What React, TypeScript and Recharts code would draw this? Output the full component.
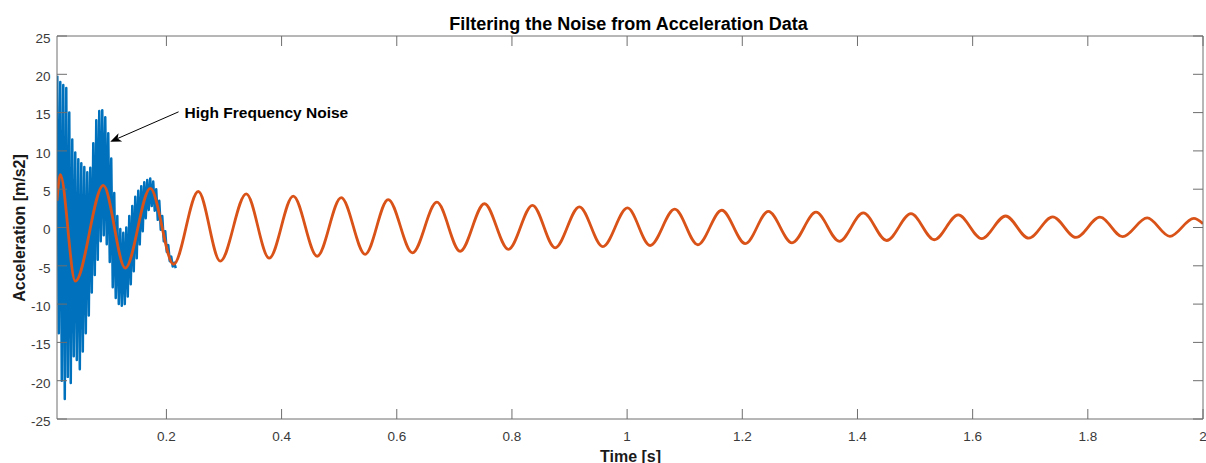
import React from 'react';
import { LineChart, Line, XAxis, YAxis, ReferenceLine } from 'recharts';

// ---------- data ----------
const titleText = 'Filtering the Noise from Acceleration Data';
const xLabelText = 'Time [s]';
const yLabelText = 'Acceleration [m/s2]';
const annotationText = 'High Frequency Noise';

const xTicks = [0.2, 0.4, 0.6, 0.8, 1, 1.2, 1.4, 1.6, 1.8, 2];
const yTicks = [-25, -20, -15, -10, -5, 0, 5, 10, 15, 20, 25];
const xDomain = [0.01, 2];
const yDomain = [-25, 25];

// raw (noisy) acceleration, time [s]
const blueTime = [
  0.0105, 0.0131, 0.0157, 0.0183, 0.0209, 0.0235, 0.0261, 0.0287, 0.0313, 0.0339,
  0.0365, 0.0391, 0.0417, 0.0444, 0.047, 0.0496, 0.0522, 0.0548, 0.0574, 0.06,
  0.0626, 0.0652, 0.0678, 0.0704, 0.073, 0.0756, 0.0782, 0.0808, 0.0834, 0.086,
  0.0886, 0.0912, 0.0938, 0.0964, 0.099, 0.1016, 0.1042, 0.1068, 0.1094, 0.112,
  0.1147, 0.1173, 0.1199, 0.1225, 0.1251, 0.1277, 0.1303, 0.1329, 0.1355, 0.1381,
  0.1407, 0.1433, 0.1459, 0.1485, 0.1511, 0.1537, 0.1563, 0.1589, 0.1615, 0.1641,
  0.1667, 0.1693, 0.1719, 0.1745, 0.1771, 0.1797, 0.1823, 0.185, 0.1876, 0.1902,
  0.1928, 0.1954, 0.198, 0.2006, 0.2032, 0.2058, 0.2084, 0.211, 0.2136, 0.2162,
];
// raw (noisy) acceleration, value [m/s2]
const blueValue = [
  19.8, -13.8, 19.0, -20.0, 18.6, -22.4, 18.2, -19.5, 15.0, -20.3,
  11.5, -16.8, 9.8, -17.3, 8.9, -18.5, 8.4, -16.2, 7.9, -13.8,
  7.2, -11.5, 7.8, -8.5, 11.0, -6.2, 14.0, -4.2, 15.2, -1.8,
  15.3, -1.0, 14.4, -2.2, 12.3, -4.5, 9.0, -7.8, 4.5, -9.2,
  1.5, -10.0, -0.2, -10.2, -0.7, -10.0, 0.0, -9.0, 1.5, -7.4,
  2.8, -5.7, 4.0, -4.0, 4.8, -2.2, 5.4, -0.5, 5.9, 1.2,
  6.2, 2.3, 6.4, 2.8, 6.0, 2.2, 5.0, 1.0, 3.5, -0.3,
  1.5, -1.8, -0.5, -3.2, -2.3, -4.4, -3.8, -5.1, -4.6, -5.3,
];

// filtered acceleration (turning points), time [s]
const orangeTime = [
  0.01, 0.0157, 0.0418, 0.0904, 0.1286, 0.172, 0.2124, 0.2553, 0.2935, 0.3386,
  0.3785, 0.4202, 0.4618, 0.5035, 0.5451, 0.5851, 0.6273, 0.6696, 0.71, 0.7522,
  0.7939, 0.8356, 0.875, 0.9171, 0.9578, 1.0006, 1.0399, 1.0827, 1.1227, 1.1643,
  1.2053, 1.2452, 1.2864, 1.328, 1.3685, 1.4101, 1.4507, 1.4929, 1.5334, 1.575,
  1.6157, 1.6573, 1.6973, 1.7389, 1.7794, 1.821, 1.8604, 1.9031, 1.9425, 1.9842,
  2.0,
];
// filtered acceleration, value [m/s2]
const orangeValue = [
  3.5, 6.9, -7.0, 5.5, -5.3, 5.1, -4.8, 4.7, -4.4, 4.4,
  -4.0, 4.1, -3.75, 3.9, -3.5, 3.65, -3.3, 3.3, -3.1, 3.1,
  -2.85, 2.9, -2.65, 2.7, -2.5, 2.55, -2.35, 2.4, -2.25, 2.25,
  -2.1, 2.1, -2.0, 2.0, -1.8, 1.9, -1.7, 1.8, -1.6, 1.65,
  -1.45, 1.5, -1.4, 1.4, -1.3, 1.35, -1.2, 1.25, -1.15, 1.2,
  0.5,
];

// annotation arrow: tail (near text) -> tip (on noisy signal)
const arrowTail = { x: 0.2211, y: 15.1 };
const arrowTip = { x: 0.1025, y: 11.2 };

const blueData = blueTime.map((t, i) => ({ t, v: blueValue[i] }));
const orangeData = orangeTime.map((t, i) => ({ t, v: orangeValue[i] }));

// ---------- style ----------
const FONT = '"Liberation Sans", Arial, Helvetica, sans-serif';
const AXIS = '#6e6e6e';
const TICK_TEXT = '#3a3a3a';
const TICK_LEN = 10;
const W = 1206;
const H = 463;

const BOTTOM_M = 22;
const LEFT_M = 6.5;
const TOP_M = 4;
const RIGHT_M = 4;

const fmt = (v: number) => String(v);

const BottomTick = (p: any) => {
  const { x, y, payload } = p;
  const axisY = y - BOTTOM_M;
  return (
    <g>
      <line x1={x} x2={x} y1={axisY} y2={axisY - TICK_LEN} stroke={AXIS} strokeWidth={1} />
      <text x={x} y={y} textAnchor="middle" fontFamily={FONT} fontSize={13.5} fill={TICK_TEXT}>
        {fmt(payload.value)}
      </text>
    </g>
  );
};

const TopTick = (p: any) => {
  const { x, y } = p;
  const axisY = y + TOP_M;
  return <line x1={x} x2={x} y1={axisY} y2={axisY + TICK_LEN} stroke={AXIS} strokeWidth={1} />;
};

const LeftTick = (p: any) => {
  const { x, y, payload } = p;
  const axisX = x + LEFT_M;
  return (
    <g>
      <line x1={axisX} x2={axisX + TICK_LEN} y1={y} y2={y} stroke={AXIS} strokeWidth={1} />
      <text x={x} y={y + 6.8} textAnchor="end" fontFamily={FONT} fontSize={13.5} fill={TICK_TEXT}>
        {fmt(payload.value)}
      </text>
    </g>
  );
};

const RightTick = (p: any) => {
  const { x, y } = p;
  const axisX = x - RIGHT_M;
  return <line x1={axisX} x2={axisX - TICK_LEN} y1={y} y2={y} stroke={AXIS} strokeWidth={1} />;
};

const ArrowShape = (props: any) => {
  const { x1, y1, x2, y2 } = props;
  if ([x1, y1, x2, y2].some((v) => typeof v !== 'number' || Number.isNaN(v))) return null;
  const dx = x2 - x1;
  const dy = y2 - y1;
  const len = Math.hypot(dx, dy) || 1;
  const ux = dx / len;
  const uy = dy / len;
  const nx = -uy;
  const ny = ux;
  const L = 11;
  const HW = 4.5;
  const back = 3;
  const bx = x2 - ux * L;
  const by = y2 - uy * L;
  const mx = x2 - ux * (L - back);
  const my = y2 - uy * (L - back);
  const pts = `${x2},${y2} ${bx + nx * HW},${by + ny * HW} ${mx},${my} ${bx - nx * HW},${by - ny * HW}`;
  return (
    <g>
      <line x1={x1} y1={y1} x2={mx} y2={my} stroke="#000" strokeWidth={1} />
      <polygon points={pts} fill="#000" />
      <text x={x1 + 6} y={y1 + 6.6} fontFamily={FONT} fontWeight="bold" fontSize={15.5} fill="#000">
        {annotationText}
      </text>
    </g>
  );
};

export default function App() {
  return (
    <div style={{ position: 'absolute', left: 0, top: 0, width: W, height: H, background: '#fff' }}>
      <LineChart width={W} height={H} margin={{ top: 35, right: 2, bottom: 0, left: 0 }}>
        <XAxis
          xAxisId={0}
          dataKey="t"
          type="number"
          domain={xDomain}
          ticks={xTicks}
          allowDataOverflow
          height={44}
          orientation="bottom"
          stroke={AXIS}
          tickLine={false}
          tickSize={0}
          tickMargin={BOTTOM_M}
          tick={BottomTick}
          interval={0}
        />
        <XAxis
          xAxisId="top"
          dataKey="t"
          type="number"
          domain={xDomain}
          ticks={xTicks}
          allowDataOverflow
          height={1}
          orientation="top"
          stroke={AXIS}
          tickLine={false}
          tickSize={0}
          tickMargin={TOP_M}
          tick={TopTick}
          interval={0}
        />
        <YAxis
          yAxisId={0}
          type="number"
          domain={yDomain}
          ticks={yTicks}
          allowDataOverflow
          width={57}
          orientation="left"
          stroke={AXIS}
          tickLine={false}
          tickSize={0}
          tickMargin={LEFT_M}
          tick={LeftTick}
          interval={0}
        />
        <YAxis
          yAxisId="right"
          type="number"
          domain={yDomain}
          ticks={yTicks}
          allowDataOverflow
          width={1}
          orientation="right"
          stroke={AXIS}
          tickLine={false}
          tickSize={0}
          tickMargin={RIGHT_M}
          tick={RightTick}
          interval={0}
        />
        <Line
          data={blueData}
          dataKey="v"
          type="linear"
          stroke="#0072BD"
          strokeWidth={2.5}
          strokeLinejoin="round"
          dot={false}
          activeDot={false}
          isAnimationActive={false}
        />
        <Line
          data={orangeData}
          dataKey="v"
          type="monotone"
          stroke="#D95319"
          strokeWidth={2.8}
          dot={false}
          activeDot={false}
          isAnimationActive={false}
        />
        <ReferenceLine segment={[arrowTail, arrowTip]} ifOverflow="visible" shape={ArrowShape} />
      </LineChart>
      <svg width={W} height={H} style={{ position: 'absolute', left: 0, top: 0, pointerEvents: 'none' }}>
        <text x={628.5} y={30} textAnchor="middle" fontFamily={FONT} fontWeight="bold" fontSize={18} fill="#000">
          {titleText}
        </text>
        <text x={630.5} y={461.5} textAnchor="middle" fontFamily={FONT} fontWeight="bold" fontSize={16} fill="#1a1a1a">
          {xLabelText}
        </text>
        <text
          transform="translate(25,228) rotate(-90)"
          textAnchor="middle"
          fontFamily={FONT}
          fontWeight="bold"
          fontSize={16}
          fill="#1a1a1a"
        >
          {yLabelText}
        </text>
      </svg>
    </div>
  );
}
